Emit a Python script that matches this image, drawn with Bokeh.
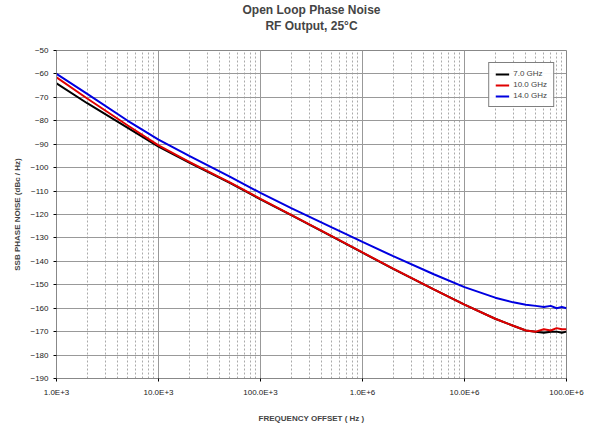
from bokeh.plotting import figure
from bokeh.models import Legend, FixedTicker, Title
from bokeh.embed import file_html
from bokeh.resources import INLINE

freq = [1e3, 2e3, 5e3, 1e4, 2e4, 5e4, 1e5, 2e5, 5e5, 1e6, 2e6, 5e6, 1e7, 2e7, 3e7, 4e7, 5e7, 6e7, 7e7, 8e7, 9e7, 1e8]
ghz7 = [-64, -72.5, -83, -91, -97.8, -106.5, -113.5, -120.3, -129.3, -136.3, -143.2, -152, -158.5, -164.5, -167.5, -169.5, -170, -170.5, -170, -170, -170.5, -170]
ghz10 = [-61.5, -70.5, -82, -90.5, -97.5, -106.3, -113.3, -120.2, -129.2, -136.2, -143.1, -152, -158.5, -164.5, -167.5, -169.5, -170, -169, -169.5, -168.5, -169, -169]
ghz14 = [-60, -68.5, -80, -88, -95, -103.8, -110.8, -117.3, -125.5, -131.7, -137.8, -145.5, -151, -155.5, -157.5, -158.5, -159, -159.5, -159, -160, -159.5, -160]
xticks = [1e3, 1e4, 1e5, 1e6, 1e7, 1e8]
xlabels = ["1.0E+3", "10.0E+3", "100.0E+3", "1.0E+6", "10.0E+6", "100.0E+6"]

p = figure(width=590, height=425, x_axis_type="log", x_range=(1e3, 1e8), y_range=(-190, -50),
           output_backend="svg", toolbar_location=None,
           min_border_left=56, min_border_right=24, min_border_top=6, min_border_bottom=45)
p.add_layout(Title(text=" ", text_font_size="14px", standoff=0, offset=0), "above")
p.add_layout(Title(text="RF Output, 25°C", align="center", text_font_size="12px",
                   text_font="Liberation Sans", standoff=0, offset=0), "above")
p.add_layout(Title(text="Open Loop Phase Noise", align="center", text_font_size="12px",
                   text_font="Liberation Sans", standoff=0, offset=0), "above")

r1 = p.line(freq, ghz7, color="black", line_width=2)
r2 = p.line(freq, ghz10, color="#e00000", line_width=2)
r3 = p.line(freq, ghz14, color="#0000e0", line_width=2)

leg = Legend(items=[("7.0 GHz", [r1]), ("10.0 GHz", [r2]), ("14.0 GHz", [r3])], location="top_right",
             label_text_font_size="8px", label_text_font="Liberation Sans", glyph_width=14, glyph_height=8,
             label_height=8, spacing=2, padding=6, margin=12, border_line_color="black",
             label_standoff=4)
p.add_layout(leg)

p.xaxis.ticker = FixedTicker(ticks=xticks, minor_ticks=[m * d for d in [1e3, 1e4, 1e5, 1e6, 1e7] for m in range(2, 10)])
p.xaxis.major_label_overrides = {t: l for t, l in zip(xticks, xlabels)}
p.yaxis.ticker = FixedTicker(ticks=list(range(-190, -49, 10)))
for ax in (p.xaxis, p.yaxis):
    ax.major_label_text_font_size = "8px"
    ax.major_label_text_font = "Liberation Sans"
    ax.major_label_text_color = "#222222"
    ax.axis_label_text_font_size = "8px"
    ax.axis_label_text_font = "Liberation Sans"
    ax.axis_label_text_font_style = "bold"
    ax.minor_tick_line_color = None
    ax.major_tick_out = 3
    ax.major_tick_in = 0
p.xaxis.axis_label = "FREQUENCY OFFSET ( Hz )"
p.yaxis.axis_label = "SSB PHASE NOISE (dBc / Hz)"
p.xaxis.axis_label_standoff = 14
p.xgrid.grid_line_color = "#999999"
p.ygrid.grid_line_color = "#999999"
p.xgrid.minor_grid_line_color = "#aaaaaa"
p.xgrid.minor_grid_line_dash = "2 2"
p.outline_line_color = "#888888"
p.axis.axis_line_color = "#888888"

open("out.html", "w").write(file_html(p, INLINE))
